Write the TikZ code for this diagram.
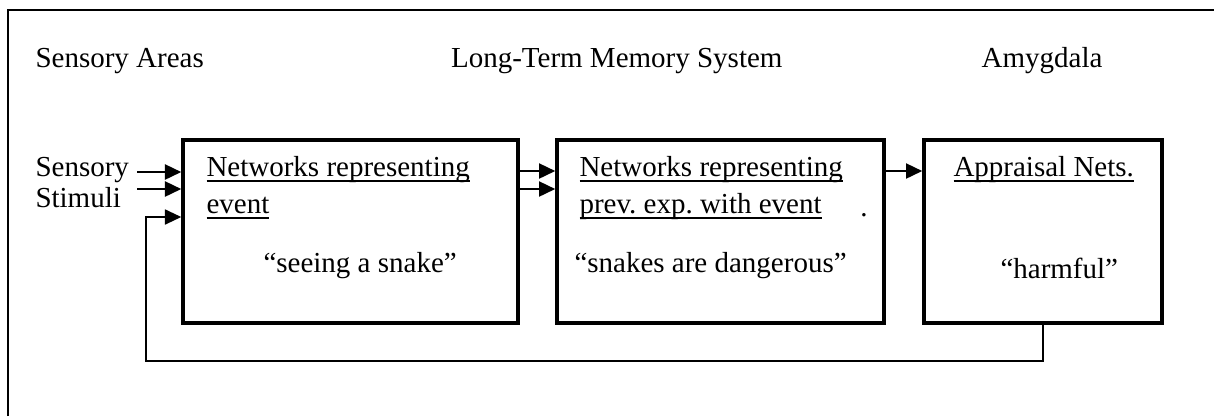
\documentclass[tikz,border=0pt]{standalone}
\usepackage{fontspec}
\setmainfont{Liberation Serif}
\usetikzlibrary{arrows.meta}
\newcommand\netul[1]{\setbox0\hbox{#1}\rlap{\rule[-2.5pt]{\wd0}{0.8pt}}\box0}
\tikzset{
	netbox/.style={draw,line width=1.4pt,minimum height=73.2pt,inner sep=0pt},
	txt/.style={inner sep=0pt,anchor=base west},
	arr/.style={line width=0.9pt,-{Triangle[length=6.5pt,width=6pt]}},
	fbline/.style={line width=0.7pt,-{Triangle[length=6.5pt,width=6pt]}}
}
\frenchspacing
\begin{document}
\begin{tikzpicture}[x=0.4pt,y=-0.4pt,font=\fontsize{11.6}{14}\selectfont]
			\useasboundingbox (0,0) rectangle (1214,416);
			\draw[line width=0.6pt] (8,416) -- (8,10) -- (1214,10);

			\node[txt] (hsens) at (35,67) {Sensory Areas};
			\node[txt,anchor=base east] (hltm) at (783,67) {Long-Term Memory System};
			\node[txt,anchor=base east] (hamy) at (1103,67) {Amygdala};

			\node[txt] (stim1) at (35,176) {Sensory};
			\node[txt] (stim2) at (35,207) {Stimuli};

			\node[netbox,minimum width=134pt] (sens) at (350.5,231.5) {};
			\node[netbox,minimum width=130.8pt] (ltm) at (720.5,231.5) {};
			\node[netbox,minimum width=95.2pt] (amy) at (1043,231.5) {};

			\node[txt] (s1) at (206,176) {\netul{Networks representing}};
			\node[txt] (s2) at (206,213) {\netul{event}};
			\node[txt] (s3) at (263,272) {``seeing a snake''};

			\node[txt] (l1) at (579,176) {\netul{Networks representing}};
			\node[txt] (l2) at (579,213) {\netul{prev. exp. with event}};
			\node[txt] (l3) at (574,272) {``snakes are dangerous''};
			\node[txt,anchor=base] (dot) at (864,216) {.};

			\node[txt] (a1) at (953,176) {\netul{Appraisal Nets.}};
			\node[txt] (a3) at (1000,278) {``harmful''};

			\coordinate (in1) at (137,172);
			\coordinate (in2) at (137,189);
			\coordinate (fbin) at (146,217);
			\coordinate (fb) at (1043,361);
			\coordinate (m1) at (0,171);
			\coordinate (m2) at (0,189);

			\draw[arr] (in1) -- (in1 -| sens.west);
			\draw[arr] (in2) -- (in2 -| sens.west);
			\draw[arr] (sens.east |- m1) -- (ltm.west |- m1);
			\draw[arr] (sens.east |- m2) -- (ltm.west |- m2);
			\draw[arr] (ltm.east |- m1) -- (amy.west |- m1);
			\draw[fbline] (amy.south) -- (fb) -| (fbin) -- (fbin -| sens.west);
\end{tikzpicture}
\end{document}
